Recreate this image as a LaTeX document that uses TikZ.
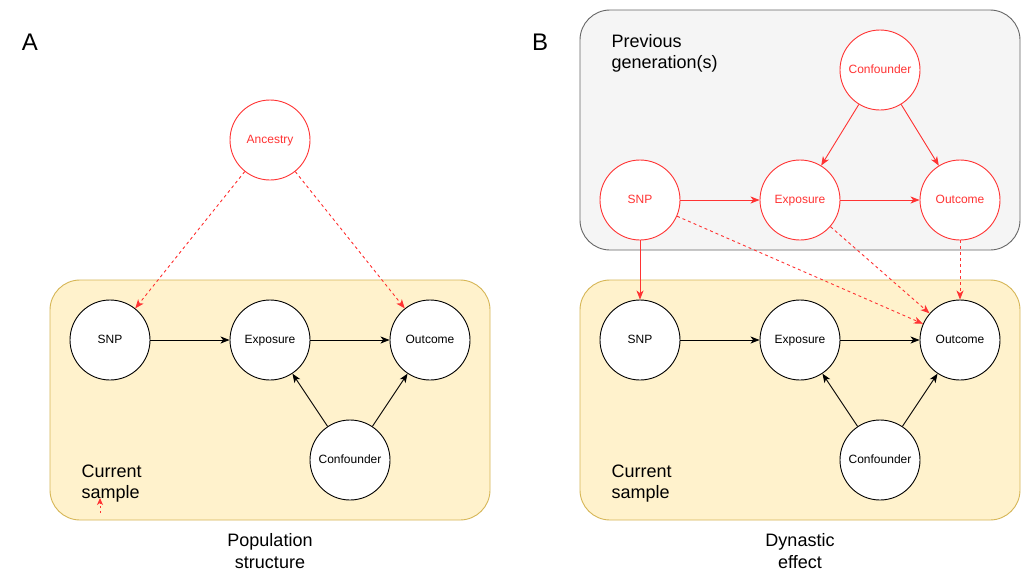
\documentclass[tikz,border=0pt]{standalone}
\usepackage{fontspec}
\setmainfont{Liberation Sans}
\usetikzlibrary{arrows.meta}
\definecolor{redc}{HTML}{FF3333}
\definecolor{yfill}{HTML}{FFF2CC}
\definecolor{ydraw}{HTML}{D6B656}
\definecolor{gfill}{HTML}{F5F5F5}
\definecolor{gdraw}{HTML}{666666}
\begin{document}
\begin{tikzpicture}[x=1pt,y=-1pt,
  blackc/.style={circle,draw=black,fill=white,line width=0.9pt,minimum size=80pt,inner sep=0pt,text height=8.6pt,text depth=2.6pt,font=\fontsize{12}{14}\selectfont},
  redcirc/.style={blackc,draw=redc,text=redc},
  arr/.style={-{Stealth[length=9pt,width=7pt,inset=2.5pt]},line width=0.9pt},
  rarr/.style={arr,draw=redc},
  rdash/.style={rarr,dashed,dash pattern=on 3pt off 3pt},
  panel/.style={rounded corners=30pt,line width=0.9pt},
  lbl/.style={font=\fontsize{18}{21}\selectfont,align=left,anchor=north west},
  captxt/.style={font=\fontsize{18}{22}\selectfont,align=center}
]
\useasboundingbox (0,0) rectangle (1031,582);
\fill[white] (0,0) rectangle (1031,582);
% panels
\draw[panel,fill=yfill,draw=ydraw] (50,280) rectangle (490,520);
\draw[panel,fill=yfill,draw=ydraw] (580,280) rectangle (1020,520);
\draw[panel,fill=gfill,draw=gdraw] (580,10) rectangle (1020,250);
% labels
\node[font=\fontsize{24}{28}\selectfont] (A) at (30,42) {A};
\node[font=\fontsize{24}{28}\selectfont] (B) at (540,42) {B};
\node[lbl] (cs1) at (78,461) {Current\\sample};
\node[lbl] (cs2) at (608,461) {Current\\sample};
\node[lbl] (pg) at (608,31) {Previous\\generation(s)};
\node[captxt] (ps) at (270,551) {Population\\structure};
\node[captxt] (de) at (800,551) {Dynastic\\effect};
% left nodes
\node[blackc] (snpA) at (110,340) {SNP};
\node[blackc] (expA) at (270,340) {Exposure};
\node[blackc] (outA) at (430,340) {Outcome};
\node[blackc] (conA) at (350,460) {Confounder};
\node[redcirc] (anc) at (270,140) {Ancestry};
% right nodes
\node[blackc] (snpB) at (640,340) {SNP};
\node[blackc] (expB) at (800,340) {Exposure};
\node[blackc] (outB) at (960,340) {Outcome};
\node[blackc] (conB) at (880,460) {Confounder};
\node[redcirc] (rsnp) at (640,200) {SNP};
\node[redcirc] (rexp) at (800,200) {Exposure};
\node[redcirc] (rout) at (960,200) {Outcome};
\node[redcirc] (rcon) at (880,70) {Confounder};
% left edges
\draw[arr] (snpA) -- (expA);
\draw[arr] (expA) -- (outA);
\draw[arr] (conA) -- (expA);
\draw[arr] (conA) -- (outA);
\draw[rdash] (anc) -- (snpA);
\draw[rdash] (anc) -- (outA);
% tiny stray arrow
\coordinate (t1) at (100,513);
\coordinate (t2) at (100,498);
\draw[redc,dashed,dash pattern=on 2.5pt off 2.5pt,line width=0.9pt,-{Stealth[length=7pt,width=6pt,inset=2pt]}] (t1) -- (t2);
% right edges
\draw[arr] (snpB) -- (expB);
\draw[arr] (expB) -- (outB);
\draw[arr] (conB) -- (expB);
\draw[arr] (conB) -- (outB);
\draw[rarr] (rsnp) -- (rexp);
\draw[rarr] (rexp) -- (rout);
\draw[rarr] (rcon) -- (rexp);
\draw[rarr] (rcon) -- (rout);
\draw[rarr] (rsnp) -- (snpB);
\draw[rdash] (rsnp) -- (outB);
\draw[rdash] (rexp) -- (outB);
\draw[rdash] (rout) -- (outB);
\end{tikzpicture}
\end{document}
